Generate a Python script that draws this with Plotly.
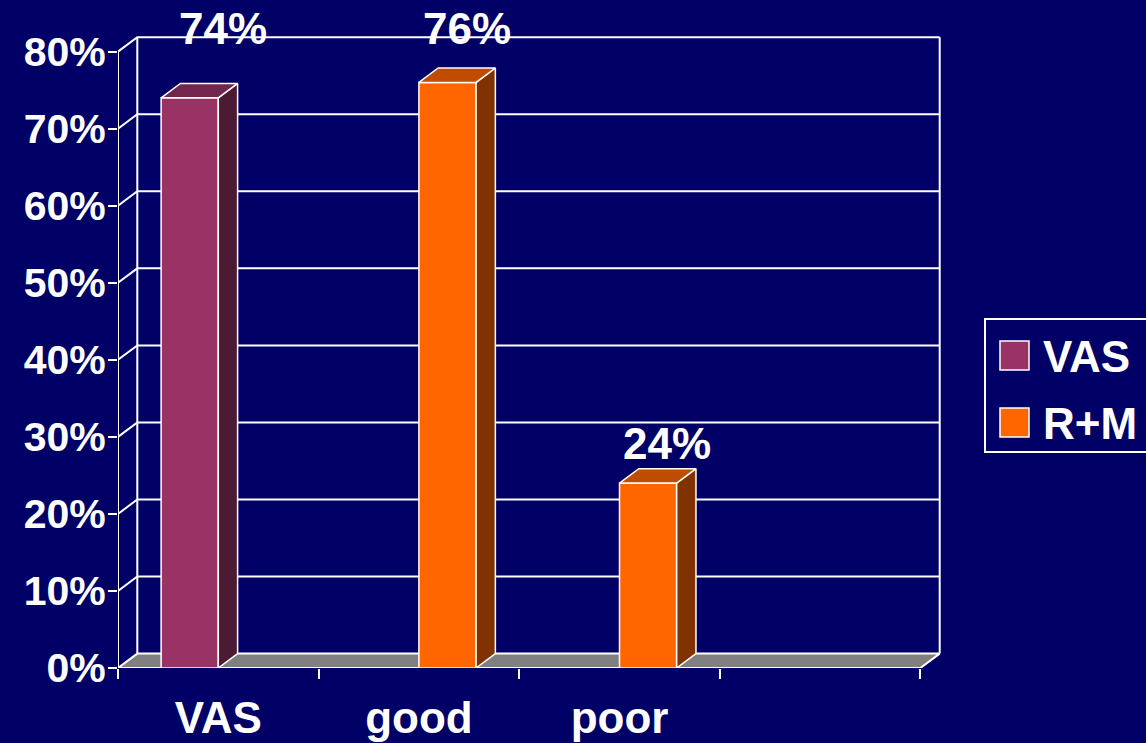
import plotly.graph_objects as go

# ---------------- data ----------------
categories = ["VAS", "good", "poor", ""]
series_names = ["VAS", "R+M"]
vas_values = [74, None, None, None]
rm_values = [None, 76, 24, None]
y_tick_values = [0, 10, 20, 30, 40, 50, 60, 70, 80]
y_tick_labels = ["0%", "10%", "20%", "30%", "40%", "50%", "60%", "70%", "80%"]

# ---------------- style / geometry ----------------
BG = "#000066"
FONT = "Liberation Sans, Arial, sans-serif"
FRONT = {"VAS": "#993366", "R+M": "#FF6600"}
TOP = {"VAS": "#73264D", "R+M": "#BF4C00"}
SIDE = {"VAS": "#4D1A33", "R+M": "#803300"}
FLOOR = "#808080"
WHITE = "white"

W, H = 1146, 743
ML, MR, MT, MB = 118, 186, 20, 75
PW, PH = W - ML - MR, H - MT - MB
PX_PER_CAT = 200.6
PX_PER_PCT = 7.705
XMAX = PW / PX_PER_CAT
YMAX = PH / PX_PER_PCT
DX = 19.3 / PX_PER_CAT      # depth offset in category units
DY = 14.4 / PX_PER_PCT      # depth offset in percent units
BAR_W = 0.285
NCAT = len(categories)
TOPV = max(y_tick_values)


def px_to_paper(px, py):
    return (px - ML) / PW, (H - MB - py) / PH


fig = go.Figure()


def poly(xs, ys, fill, lw=1.5):
    fig.add_trace(go.Scatter(
        x=xs + [xs[0]], y=ys + [ys[0]], mode="lines", fill="toself",
        fillcolor=fill, line=dict(color=WHITE, width=lw),
        hoverinfo="skip", showlegend=False))


def line(xs, ys, lw=2):
    fig.add_trace(go.Scatter(
        x=xs, y=ys, mode="lines", line=dict(color=WHITE, width=lw),
        hoverinfo="skip", showlegend=False))


# floor
poly([0, NCAT, NCAT + DX, DX], [0, 0, DY, DY], FLOOR, 2)

# gridlines on side wall + back wall
for v in y_tick_values[1:]:
    line([0, DX, NCAT + DX], [v, v + DY, v + DY])
# back wall vertical edges
line([DX, DX], [DY, TOPV + DY])
line([NCAT + DX, NCAT + DX], [DY, TOPV + DY])
# front value axis line
line([0, 0], [0, TOPV])

# bars
annos = []
for s, (name, vals) in enumerate(zip(series_names, [vas_values, rm_values])):
    for c, v in enumerate(vals):
        if v is None:
            continue
        x0 = c + 0.5 - BAR_W + s * BAR_W
        x1 = x0 + BAR_W
        # front
        poly([x0, x1, x1, x0], [0, 0, v, v], FRONT[name])
        # side
        poly([x1, x1 + DX, x1 + DX, x1], [0, DY, v + DY, v], SIDE[name])
        # top
        poly([x0, x1, x1 + DX, x0 + DX], [v, v, v + DY, v + DY], TOP[name])
        # data label
        lx = (x0 + x1) / 2 + DX
        if v > 50:
            ly = 83.0
            if s == 0:
                lx += 14 / PX_PER_CAT
        else:
            ly = v + 5.2
        annos.append(dict(x=lx, y=ly, xref="x", yref="y", text=f"{v}%",
                          showarrow=False, xanchor="center", yanchor="middle",
                          font=dict(family=FONT, size=44, color=WHITE,
                                    weight="bold")))

# legend (manual, large swatches)
shapes = []
lx0, ly0 = px_to_paper(985, 452)
lx1, ly1 = px_to_paper(1152, 319)
shapes.append(dict(type="rect", xref="paper", yref="paper", x0=lx0, y0=ly0,
                   x1=lx1, y1=ly1, line=dict(color=WHITE, width=2),
                   fillcolor=BG, layer="above"))
for i, name in enumerate(series_names):
    top_px = 341 + i * 67
    sx0, sy0 = px_to_paper(1000, top_px + 29)
    sx1, sy1 = px_to_paper(1029, top_px)
    shapes.append(dict(type="rect", xref="paper", yref="paper", x0=sx0, y0=sy0,
                       x1=sx1, y1=sy1, line=dict(color=WHITE, width=1.5),
                       fillcolor=FRONT[name], layer="above"))
    tx, ty = px_to_paper(1041, top_px + 15)
    annos.append(dict(x=tx, y=ty, xref="paper", yref="paper", text=name,
                      showarrow=False, xanchor="left", yanchor="middle",
                      font=dict(family=FONT, size=44, color=WHITE,
                                weight="bold")))

fig.update_layout(
    width=W, height=H,
    margin=dict(l=ML, r=MR, t=MT, b=MB, pad=0, autoexpand=False),
    paper_bgcolor=BG, plot_bgcolor=BG,
    showlegend=False,
    annotations=annos, shapes=shapes,
    xaxis=dict(
        range=[0, XMAX], showgrid=False, zeroline=False, showline=False,
        tickmode="array", tickvals=[c + 0.5 for c in range(NCAT)],
        ticktext=categories, ticks="outside", ticklen=11,
        tickcolor="rgba(0,0,0,0)", automargin=False,
        tickfont=dict(family=FONT, size=44, color=WHITE, weight="bold"),
        minor=dict(tickmode="array", tickvals=list(range(NCAT + 1)),
                   ticks="outside", ticklen=10, tickcolor=WHITE, tickwidth=2,
                   showgrid=False),
        fixedrange=True,
    ),
    yaxis=dict(
        range=[0, YMAX], showgrid=False, zeroline=False, showline=False,
        tickmode="array", tickvals=y_tick_values, ticktext=y_tick_labels,
        ticks="outside", ticklen=9, tickcolor=WHITE, tickwidth=2,
        ticklabelstandoff=-6, automargin=False,
        tickfont=dict(family=FONT, size=41, color=WHITE, weight="bold"),
        fixedrange=True,
    ),
)

fig.write_html("out.html", config={"displayModeBar": False},
               post_script="document.body.style.margin='0';"
                           "document.body.style.background='#000066';")
